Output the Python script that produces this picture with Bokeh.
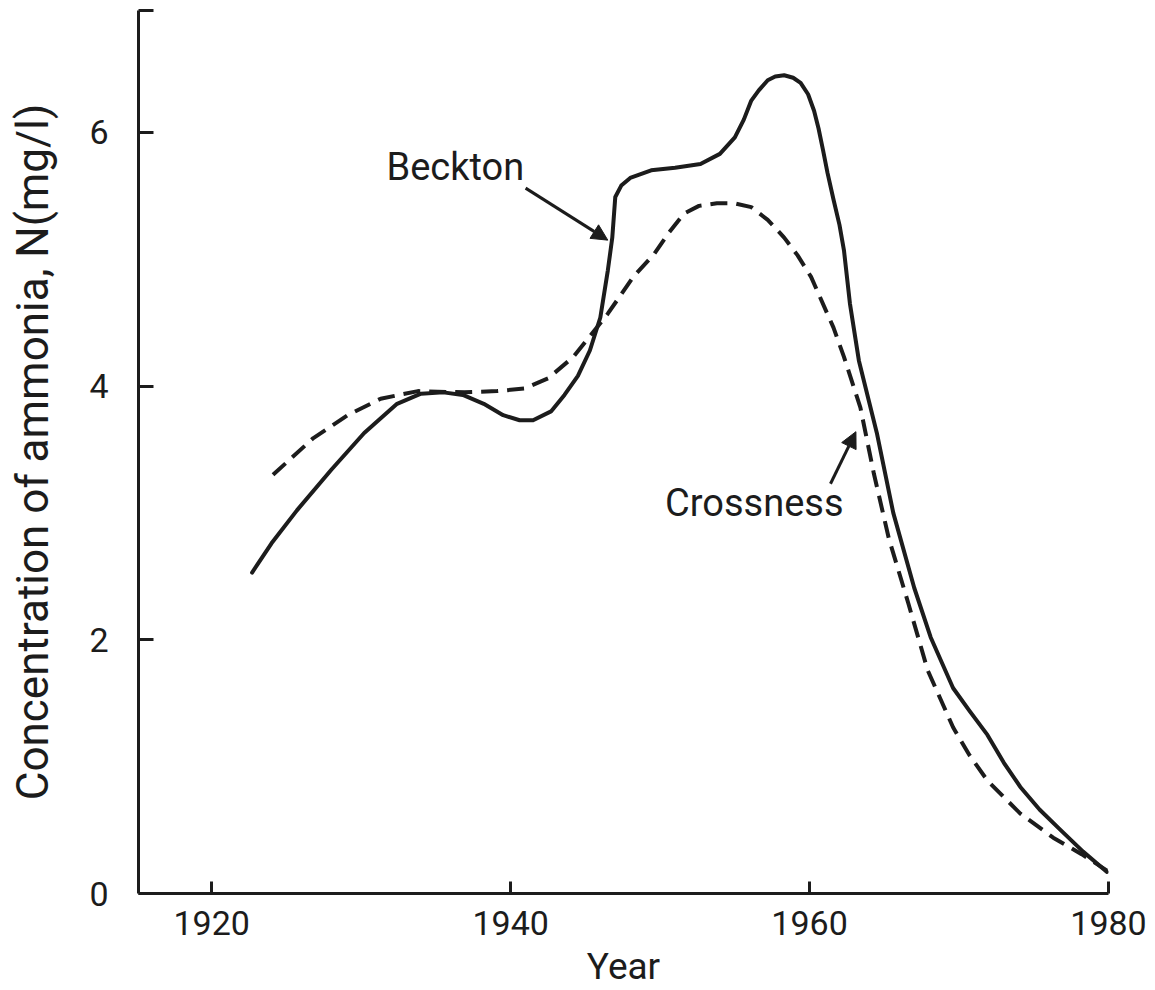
from bokeh.plotting import figure
from bokeh.models import FixedTicker, CustomJSTickFormatter, Arrow, NormalHead, Range1d
from bokeh.core.properties import value
from bokeh.embed import file_html
from bokeh.resources import INLINE

# ---- data ----
beckton_year = [1922.7, 1924.0, 1925.7, 1928.0, 1930.2, 1932.4, 1934.0, 1935.5, 1936.8,
                1938.2, 1939.5, 1940.6, 1941.5, 1942.7, 1943.6, 1944.5, 1945.3, 1946.0,
                1946.5, 1946.8, 1947.0, 1947.4, 1948.0, 1949.4, 1951.0, 1952.7, 1954.0,
                1955.0, 1955.6, 1956.1, 1956.6, 1957.2, 1957.7, 1958.3, 1958.9, 1959.4,
                1959.9, 1960.3, 1960.6, 1960.9, 1961.2, 1961.6, 1962.0, 1962.3, 1962.7,
                1963.3, 1964.5, 1965.6, 1967.0, 1968.1, 1969.6, 1970.7, 1971.9, 1973.0,
                1974.1, 1975.4, 1976.8, 1978.3, 1979.9]
beckton_nh3 = [2.53, 2.76, 3.02, 3.34, 3.63, 3.86, 3.94, 3.95, 3.93,
               3.86, 3.77, 3.73, 3.73, 3.80, 3.93, 4.08, 4.28, 4.54,
               4.91, 5.17, 5.49, 5.58, 5.64, 5.70, 5.72, 5.75, 5.83,
               5.96, 6.10, 6.25, 6.33, 6.41, 6.44, 6.45, 6.43, 6.39,
               6.30, 6.17, 6.03, 5.86, 5.68, 5.47, 5.27, 5.07, 4.65,
               4.20, 3.63, 3.00, 2.41, 2.02, 1.62, 1.44, 1.25, 1.03,
               0.84, 0.66, 0.50, 0.33, 0.17]

crossness_year = [1924.1, 1926.8, 1929.1, 1931.3, 1933.8, 1936.9, 1939.1, 1940.9, 1942.5,
                  1944.2, 1946.5, 1948.2, 1949.6, 1950.6, 1951.6, 1952.6, 1953.8, 1955.0,
                  1956.1, 1957.2, 1958.3, 1959.2, 1960.1, 1961.6, 1962.3, 1963.4, 1964.3,
                  1965.3, 1966.6, 1967.9, 1969.6, 1970.7, 1971.9, 1974.1, 1976.3, 1978.2,
                  1979.9]
crossness_nh3 = [3.30, 3.59, 3.77, 3.90, 3.96, 3.95, 3.96, 3.98, 4.06,
                 4.23, 4.57, 4.86, 5.04, 5.21, 5.36, 5.42, 5.44, 5.44,
                 5.41, 5.31, 5.17, 5.03, 4.86, 4.46, 4.23, 3.83, 3.31,
                 2.80, 2.29, 1.76, 1.31, 1.09, 0.89, 0.63, 0.44, 0.31,
                 0.18]

x_ticks = [1920, 1940, 1960, 1980]
y_ticks = [0, 2, 4, 6]
X_MIN, X_MAX = 1915.1, 1980.0
Y_MIN, Y_MAX = 0.0, 6.96

INK = "#1c1c1c"
FONT = "Roboto"

p = figure(width=1155, height=990, output_backend="svg", toolbar_location=None,
           x_range=Range1d(X_MIN, X_MAX), y_range=Range1d(Y_MIN, Y_MAX),
           min_border_left=138, min_border_right=47, min_border_top=10, min_border_bottom=97)
p.background_fill_color = "white"
p.border_fill_color = "white"
p.outline_line_color = None
p.xgrid.visible = False
p.ygrid.visible = False

# x axis
xa = p.xaxis[0]
xa.ticker = FixedTicker(ticks=x_ticks)
xa.minor_tick_line_color = None
xa.major_tick_in = 12
xa.major_tick_out = 0
xa.major_tick_line_width = 3
xa.major_tick_line_color = INK
xa.axis_line_width = 3
xa.axis_line_color = INK
xa.major_label_text_font = FONT
xa.major_label_text_font_size = "34px"
xa.major_label_text_color = INK
xa.major_label_standoff = 17
xa.axis_label = "Year"
xa.axis_label_text_font = FONT
xa.axis_label_text_font_size = "37px"
xa.axis_label_text_font_style = "normal"
xa.axis_label_text_color = INK
xa.axis_label_standoff = 7

# y axis
ya = p.yaxis[0]
ya.ticker = FixedTicker(ticks=y_ticks + [Y_MAX])
ya.formatter = CustomJSTickFormatter(code="return tick > 6.5 ? '' : tick.toFixed(0);")
ya.minor_tick_line_color = None
ya.major_tick_in = 15
ya.major_tick_out = 0
ya.major_tick_line_width = 3
ya.major_tick_line_color = INK
ya.axis_line_width = 3
ya.axis_line_color = INK
ya.major_label_text_font = FONT
ya.major_label_text_font_size = "34px"
ya.major_label_text_color = INK
ya.major_label_standoff = 30
ya.major_label_orientation = "horizontal"
ya.axis_label = "Concentration of ammonia, N(mg/l)"
ya.axis_label_text_font = FONT
ya.axis_label_text_font_size = "44px"
ya.axis_label_text_font_style = "normal"
ya.axis_label_text_color = INK
ya.axis_label_standoff = 27

# curves
p.line(beckton_year, beckton_nh3, line_color=INK, line_width=4,
       line_join="round", line_cap="round")
p.line(crossness_year, crossness_nh3, line_color=INK, line_width=4,
       line_dash="17 9", line_join="round", line_cap="butt")

# labels and arrows
p.text(x=[1936.3], y=[5.73], text=["Beckton"], text_font=value(FONT),
       text_font_size="38px", text_color=INK, text_align="center", text_baseline="middle")
p.text(x=[1956.3], y=[3.08], text=["Crossness"], text_font=value(FONT),
       text_font_size="38px", text_color=INK, text_align="center", text_baseline="middle")

p.add_layout(Arrow(x_start=1941.0, y_start=5.56, x_end=1946.5, y_end=5.15,
                   line_color=INK, line_width=3,
                   end=NormalHead(size=16, fill_color=INK, line_color=INK)))
p.add_layout(Arrow(x_start=1961.4, y_start=3.23, x_end=1963.1, y_end=3.64,
                   line_color=INK, line_width=3,
                   end=NormalHead(size=16, fill_color=INK, line_color=INK)))

open("out.html", "w").write(file_html(p, INLINE))
